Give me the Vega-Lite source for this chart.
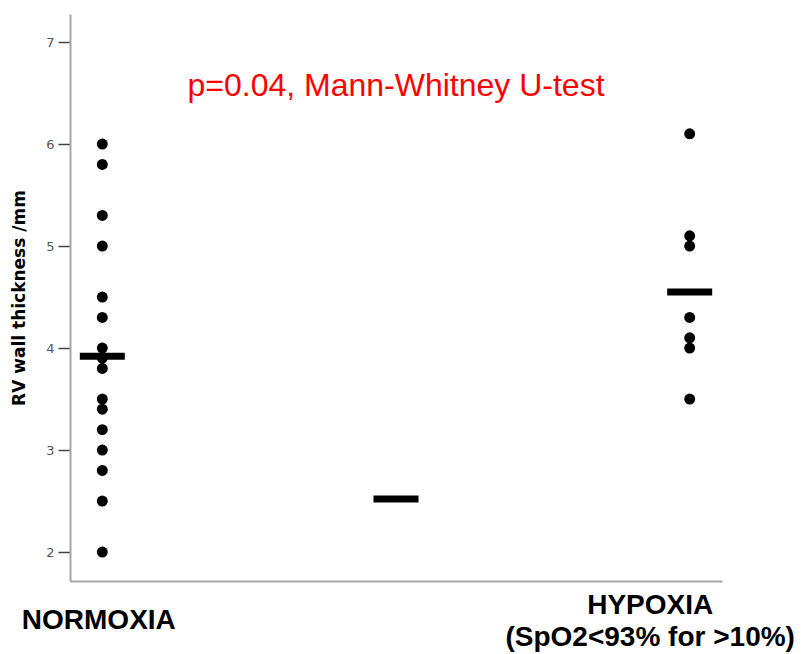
{
  "$schema": "https://vega.github.io/schema/vega-lite/v6.json",
  "width": 652,
  "height": 567,
  "autosize": {"type": "none"},
  "padding": {"left": 70, "top": 14, "right": 79, "bottom": 73},
  "background": "white",
  "config": {"view": {"stroke": null}},
  "datasets": {
    "points": [
      {"group": "NORMOXIA", "value": 6.0},
      {"group": "NORMOXIA", "value": 5.8},
      {"group": "NORMOXIA", "value": 5.3},
      {"group": "NORMOXIA", "value": 5.0},
      {"group": "NORMOXIA", "value": 4.5},
      {"group": "NORMOXIA", "value": 4.3},
      {"group": "NORMOXIA", "value": 4.0},
      {"group": "NORMOXIA", "value": 3.9},
      {"group": "NORMOXIA", "value": 3.8},
      {"group": "NORMOXIA", "value": 3.5},
      {"group": "NORMOXIA", "value": 3.4},
      {"group": "NORMOXIA", "value": 3.2},
      {"group": "NORMOXIA", "value": 3.0},
      {"group": "NORMOXIA", "value": 2.8},
      {"group": "NORMOXIA", "value": 2.5},
      {"group": "NORMOXIA", "value": 2.0},
      {"group": "HYPOXIA", "value": 6.1},
      {"group": "HYPOXIA", "value": 5.1},
      {"group": "HYPOXIA", "value": 5.0},
      {"group": "HYPOXIA", "value": 4.3},
      {"group": "HYPOXIA", "value": 4.1},
      {"group": "HYPOXIA", "value": 4.0},
      {"group": "HYPOXIA", "value": 3.5}
    ],
    "means": [
      {"group": "NORMOXIA", "value": 3.92},
      {"group": "MID", "value": 2.52},
      {"group": "HYPOXIA", "value": 4.55}
    ],
    "note": [
      {"text": "p=0.04, Mann-Whitney U-test"}
    ]
  },
  "layer": [
    {
      "data": {"name": "points"},
      "mark": {"type": "circle", "size": 120, "color": "black", "opacity": 1},
      "encoding": {
        "x": {
          "field": "group",
          "type": "nominal",
          "scale": {"type": "point", "domain": ["NORMOXIA", "MID", "HYPOXIA"], "padding": 0.11},
          "axis": {
            "title": null,
            "domainColor": "#a6a6a6",
            "domainWidth": 2,
            "ticks": false,
            "tickSize": 0,
            "labelAngle": 0,
            "labelPadding": {"condition": {"test": "datum.value == 'HYPOXIA'", "value": 24}, "value": 39},
            "labelBaseline": "middle",
            "labelAlign": "center",
            "labelFont": "Liberation Sans",
            "labelFontWeight": "bold",
            "labelFontSize": 28,
            "labelColor": "black",
            "labelLineHeight": 32,
            "labelLimit": 0,
            "labelOverlap": false,
            "labelExpr": "datum.value == 'HYPOXIA' ? ['HYPOXIA', '(SpO2<93% for >10%)'] : (datum.value == 'NORMOXIA' ? 'NORMOXIA' : '')",
            "labelOffset": {"condition": {"test": "datum.value == 'HYPOXIA'", "value": -40}, "value": -4}
          }
        },
        "y": {
          "field": "value",
          "type": "quantitative",
          "scale": {"domain": [1.716, 7.275], "nice": false, "zero": false},
          "axis": {
            "title": "RV wall thickness /mm",
            "titleFont": "DejaVu Sans",
            "titleFontSize": 17,
            "titleFontWeight": "bold",
            "titleColor": "black",
            "titlePadding": 17,
            "values": [2, 3, 4, 5, 6, 7],
            "format": "d",
            "grid": false,
            "domainColor": "#a6a6a6",
            "domainWidth": 2,
            "tickColor": "#444444",
            "tickSize": 12,
            "tickWidth": 1.5,
            "labelColor": "#555555",
            "labelFont": "DejaVu Sans",
            "labelFontSize": 13,
            "labelPadding": 4
          }
        }
      }
    },
    {
      "data": {"name": "means"},
      "mark": {"type": "tick", "orient": "horizontal", "size": 45, "thickness": 7, "color": "black", "opacity": 1},
      "encoding": {
        "x": {"field": "group", "type": "nominal"},
        "y": {"field": "value", "type": "quantitative"}
      }
    },
    {
      "data": {"name": "note"},
      "mark": {"type": "text", "color": "#ff0000", "font": "Liberation Sans", "fontSize": 32, "baseline": "middle", "align": "center"},
      "encoding": {
        "x": {"datum": "MID"},
        "y": {"datum": 6.57},
        "text": {"field": "text"}
      }
    }
  ]
}
